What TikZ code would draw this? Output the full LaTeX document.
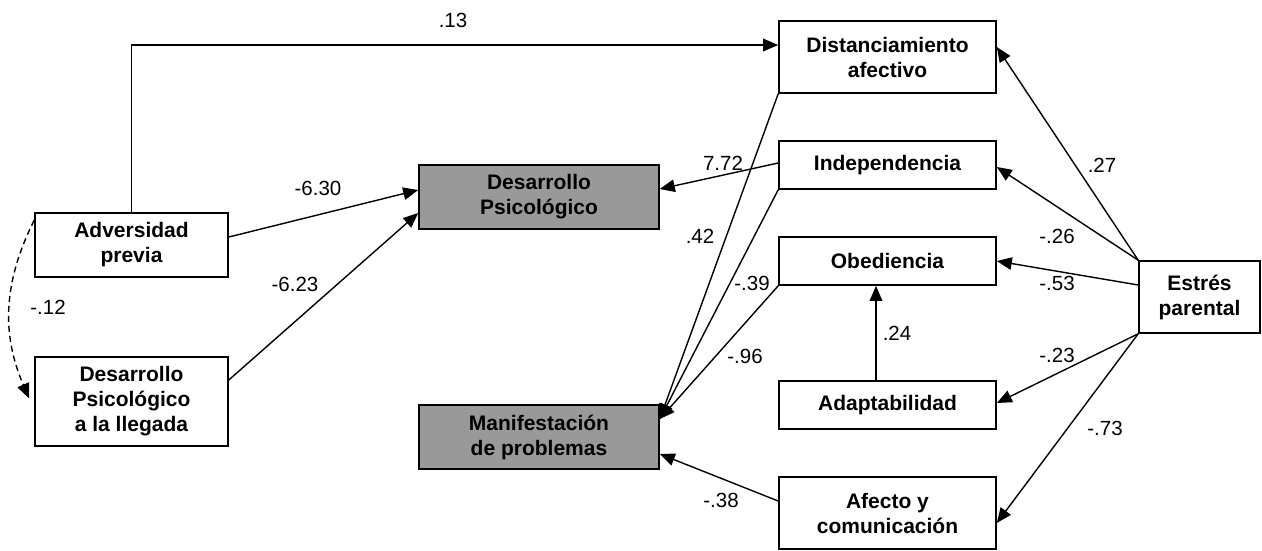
\documentclass[tikz,border=0pt]{standalone}
\usepackage{fontspec}
\setmainfont{Liberation Sans}
\usetikzlibrary{arrows.meta,calc}
\definecolor{boxgray}{RGB}{153,153,153}
\tikzset{
  box/.style={draw=black,line width=1.6pt,rectangle,inner sep=0pt,align=center,
    font=\bfseries\fontsize{21}{25}\selectfont},
  gbox/.style={box,fill=boxgray},
  lbl/.style={inner sep=0pt,font=\fontsize{20.5}{24}\selectfont},
  arr/.style={line width=1.4pt,-{Triangle[length=15pt,width=12.5pt]}},
  darr/.style={arr,dashed,dash pattern=on 6pt off 4pt}
}
\begin{document}
\begin{tikzpicture}[x=1pt,y=-1pt]
\useasboundingbox (0,0) rectangle (1262,550);
% boxes
\node[box,minimum width=193pt,minimum height=64pt] (adv) at (131.5,245) {Adversidad\\previa};
\node[box,minimum width=193pt,minimum height=89pt] (dpl) at (131.5,401.5) {Desarrollo\\Psicológico\\a la llegada};
\node[gbox,minimum width=240pt,minimum height=64pt] (dp) at (539,197) {Desarrollo\\Psicológico};
\node[gbox,minimum width=240pt,minimum height=64pt] (mp) at (539,437) {Manifestación\\de problemas};
\node[box,minimum width=217pt,minimum height=72pt] (dist) at (887.5,57) {Distanciamiento\\afectivo};
\node[box,minimum width=217pt,minimum height=48pt] (ind) at (887.5,165) {Independencia};
\node[box,minimum width=217pt,minimum height=48pt] (obe) at (887.5,261) {Obediencia};
\node[box,minimum width=217pt,minimum height=48pt] (ada) at (887.5,405) {Adaptabilidad};
\node[box,minimum width=217pt,minimum height=72pt] (afe) at (887.5,513) {Afecto y\\comunicación};
\node[box,minimum width=121pt,minimum height=72pt] (est) at (1199.5,297) {Estrés\\parental};
% connectors
\coordinate (mpin) at ([yshift=18pt]mp.east);
\draw[arr] (adv.north) |- ([yshift=12pt]dist.west);
\draw[arr] ([yshift=8pt]adv.east) -- ([yshift=7pt]dp.west);
\draw[arr] ([yshift=21.5pt]dpl.east) -- ([yshift=-16pt]dp.west);
\draw[darr] ([yshift=-8pt]adv.north west) to[bend right=25] ([xshift=-5pt,yshift=3pt]dpl.west);
\draw[arr] ([yshift=2pt]ind.west) -- ([yshift=8pt]dp.east);
\draw[arr] (dist.south west) -- (mpin);
\draw[arr] (ind.south west) -- (mpin);
\draw[arr] (obe.south west) -- (mpin);
\draw[arr] ([yshift=12pt]afe.west) -- ([yshift=-17pt]mp.east);
\draw[arr] ([xshift=-11.5pt]ada.north) -- ([xshift=-11.5pt]obe.south);
\draw[arr] (est.north west) -- ([yshift=10pt]dist.east);
\draw[arr] (est.north west) -- ([yshift=-2pt]ind.east);
\draw[arr] ([yshift=12pt]est.west) -- (obe.east);
\draw[arr] (est.south west) -- ([yshift=2pt]ada.east);
\draw[arr] (est.south west) -- ([yshift=-10pt]afe.east);
% labels
\node[lbl] (l13) at (453,20) {.13};
\node[lbl] (l630) at (318,188) {-6.30};
\node[lbl] (l623) at (295,284) {-6.23};
\node[lbl] (l12) at (48,307) {-.12};
\node[lbl] (l772) at (723,163) {7.72};
\node[lbl] (l42) at (700,236) {.42};
\node[lbl] (l39) at (752,283) {-.39};
\node[lbl] (l96) at (745,356) {-.96};
\node[lbl] (l38) at (721,500) {-.38};
\node[lbl] (l24) at (897,333) {.24};
\node[lbl] (l27) at (1102,165) {.27};
\node[lbl] (l26) at (1057,236) {-.26};
\node[lbl] (l53) at (1057,283) {-.53};
\node[lbl] (l23) at (1057,355) {-.23};
\node[lbl] (l73) at (1105,428) {-.73};
\end{tikzpicture}
\end{document}
